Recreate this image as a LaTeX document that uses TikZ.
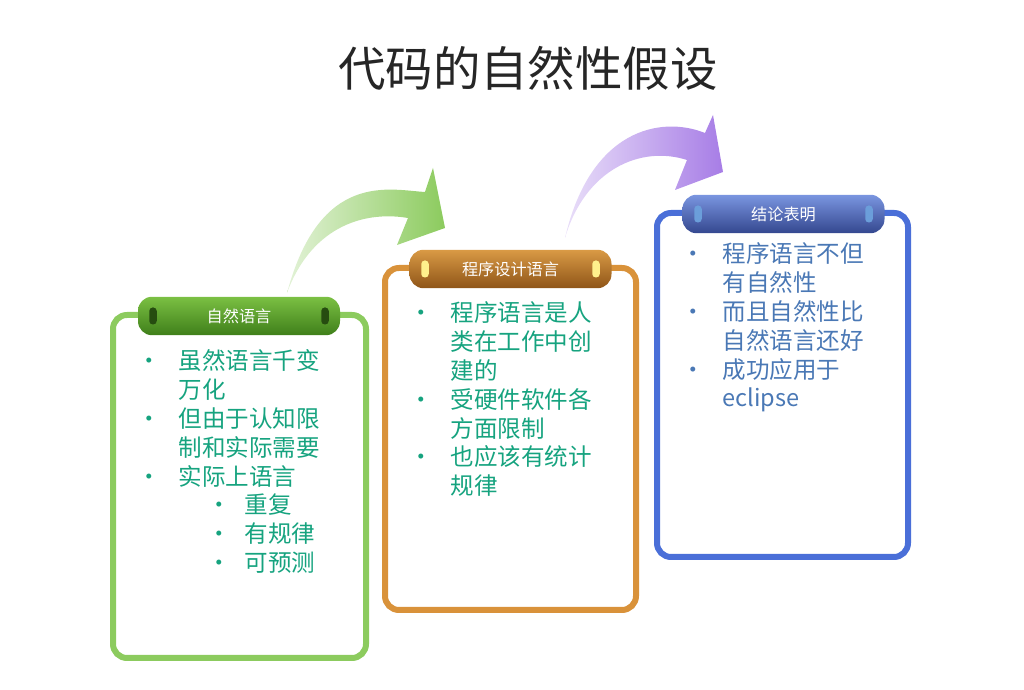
\documentclass[tikz,border=0pt]{standalone}
\usepackage{fontspec}
\setmainfont{Noto Sans CJK SC}
\definecolor{grnline}{HTML}{8CCB5E}
\definecolor{grntop}{HTML}{7BC043}
\definecolor{grnbot}{HTML}{3F7F1A}
\definecolor{orgline}{HTML}{D9923A}
\definecolor{orgtop}{HTML}{D99A45}
\definecolor{orgbot}{HTML}{8F5518}
\definecolor{bluline}{HTML}{4A6FD8}
\definecolor{blutop}{HTML}{7A95E0}
\definecolor{blubot}{HTML}{34488F}
\definecolor{purplearr}{HTML}{A77DE6}
\definecolor{tealtxt}{HTML}{16A37F}
\definecolor{blutxt}{HTML}{4A78B5}
\definecolor{titletxt}{HTML}{262626}
\tikzset{
  card/.style={line width=0.06cm, rounded corners=0.14cm},
  pill/.style={rounded corners=0.14cm, minimum width=2.02cm, minimum height=0.28cm, text=white, font=\fontsize{4.6}{5}\selectfont},
  knob/.style={rounded corners=0.035cm, minimum width=0.075cm, minimum height=0.17cm, inner sep=0pt},
  body/.style={anchor=north west, inner sep=0pt, font=\fontsize{6.7}{8.2}\selectfont}
}
\newcommand{\bl}{\textbullet}
\newcommand{\subit}[1]{\makebox[0.29cm][l]{}\makebox[0.37cm][l]{\bl}#1}
\begin{document}
\begin{tikzpicture}
\useasboundingbox (0,0) rectangle (10.24,6.90);
% title
\node (title) at (5.28,6.22) [text=titletxt, font=\fontsize{13.5}{15}\selectfont] {代码的自然性假设};
% arrows
\shade[left color=grnline!25, right color=grnline] (2.87,3.97) .. controls (3.2,5.2) and (3.9,5.0) .. (4.25,4.98) -- (4.33,5.22) -- (4.45,4.62) -- (3.97,4.45) -- (4.08,4.72) .. controls (3.6,4.8) and (3.1,4.6) .. (2.87,3.97);
\shade[left color=purplearr!25, right color=purplearr] (5.65,4.52) .. controls (5.9,5.6) and (6.6,5.75) .. (7.05,5.57) -- (7.13,5.75) -- (7.23,5.18) -- (6.75,5.00) -- (6.87,5.30) .. controls (6.4,5.45) and (5.85,5.2) .. (5.65,4.52);
% cards
\draw[card, grnline] (1.13,0.32) rectangle (3.66,3.75);
\draw[card, orgline] (3.85,0.80) rectangle (6.36,4.22);
\draw[card, bluline] (6.57,1.33) rectangle (9.08,4.77);
% pills
\node (p1) at (2.39,3.74) [pill, top color=grntop, bottom color=grnbot] {自然语言};
\node[knob, fill=grnbot!60!black] at (1.53,3.74) {};
\node[knob, fill=grnbot!60!black] at (3.25,3.74) {};
\node (p2) at (5.105,4.21) [pill, top color=orgtop, bottom color=orgbot] {程序设计语言};
\node[knob, fill=orange!25!yellow!45] at (4.25,4.21) {};
\node[knob, fill=orange!25!yellow!45] at (5.96,4.21) {};
\node (p3) at (7.835,4.76) [pill, top color=blutop, bottom color=blubot] {结论表明};
\node[knob, fill=cyan!55!blue!60!white] at (6.98,4.76) {};
\node[knob, fill=cyan!55!blue!60!white] at (8.69,4.76) {};
% texts
\node (t1) at (1.37,3.41) [body, text=tealtxt] {%
\begin{tabular}{@{}p{0.28cm}@{\hspace{0.13cm}}l@{}}
\bl & 虽然语言千变\\
 & 万化\\
\bl & 但由于认知限\\
 & 制和实际需要\\
\bl & 实际上语言\\
 & \subit{重复}\\
 & \subit{有规律}\\
 & \subit{可预测}
\end{tabular}};
\node (t2) at (4.09,3.89) [body, text=tealtxt] {%
\begin{tabular}{@{}p{0.28cm}@{\hspace{0.13cm}}l@{}}
\bl & 程序语言是人\\
 & 类在工作中创\\
 & 建的\\
\bl & 受硬件软件各\\
 & 方面限制\\
\bl & 也应该有统计\\
 & 规律
\end{tabular}};
\node (t3) at (6.81,4.48) [body, text=blutxt] {%
\begin{tabular}{@{}p{0.28cm}@{\hspace{0.13cm}}l@{}}
\bl & 程序语言不但\\
 & 有自然性\\
\bl & 而且自然性比\\
 & 自然语言还好\\
\bl & 成功应用于\\
 & eclipse
\end{tabular}};
\end{tikzpicture}
\end{document}
